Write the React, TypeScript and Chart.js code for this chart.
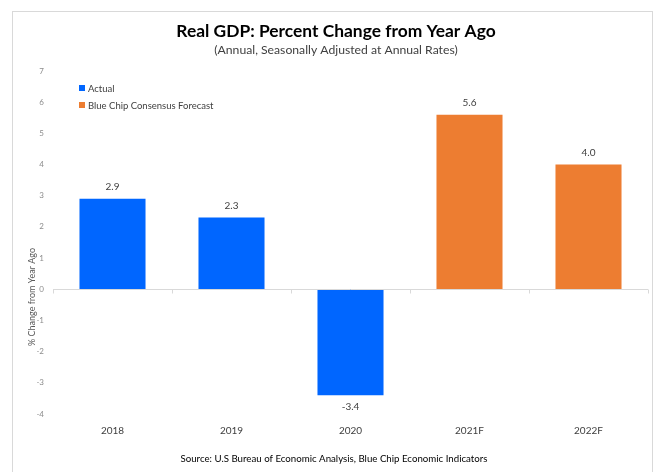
import React, { useEffect, useRef } from "react";
import { Chart, registerables } from "chart.js";

Chart.register(...registerables);

const categories = ["2018", "2019", "2020", "2021F", "2022F"];
const values = [2.9, 2.3, -3.4, 5.6, 4.0];
const seriesType = ["Actual", "Actual", "Actual", "Forecast", "Forecast"];
const legendLabels = ["Actual", "Blue Chip Consensus Forecast"];
const yTicks = { min: -4, max: 7, step: 1 };
const titleText = "Real GDP: Percent Change from Year Ago";
const subtitleText = "(Annual, Seasonally Adjusted at Annual Rates)";
const yTitleText = "% Change from Year Ago";
const sourceText = "Source: U.S Bureau of Economic Analysis, Blue Chip Economic Indicators";

const BLUE = "#0066FF";
const ORANGE = "#ED7D31";
const FONT = "Lato, 'Open Sans', sans-serif";

const decorPlugin = {
  id: "decor",
  beforeDraw(chart: any) {
    const ctx = chart.ctx;
    ctx.save();
    ctx.fillStyle = "#ffffff";
    ctx.fillRect(0, 0, chart.width, chart.height);
    ctx.strokeStyle = "#d9d9d9";
    ctx.lineWidth = 1;
    ctx.strokeRect(12.5, 11.5, 640, 520);
    ctx.restore();
  },
  afterDatasetsDraw(chart: any) {
    const ctx = chart.ctx;
    const y = chart.scales.y;
    const area = chart.chartArea;
    ctx.save();
    // zero line and ticks
    const y0 = Math.round(y.getPixelForValue(0)) + 0.5;
    ctx.strokeStyle = "#d9d9d9";
    ctx.lineWidth = 1;
    ctx.beginPath();
    ctx.moveTo(area.left, y0);
    ctx.lineTo(area.right, y0);
    const n = categories.length;
    for (let i = 0; i <= n; i++) {
      const px = Math.round(area.left + (i * (area.right - area.left)) / n) + 0.5;
      ctx.moveTo(px, y0);
      ctx.lineTo(px, y0 + 4);
    }
    ctx.stroke();

    // data labels
    ctx.fillStyle = "#404040";
    ctx.font = `10px ${FONT}`;
    ctx.textAlign = "center";
    ctx.textBaseline = "middle";
    const meta = chart.getDatasetMeta(0);
    meta.data.forEach((bar: any, i: number) => {
      const v = values[i];
      const ly = v >= 0 ? bar.y - 12 : bar.y + 11;
      ctx.fillText(v.toFixed(1), bar.x, ly);
    });

    // legend
    ctx.textAlign = "left";
    ctx.font = `9.5px ${FONT}`;
    const legendColors = [BLUE, ORANGE];
    legendLabels.forEach((lab, i) => {
      const ly = 88 + i * 17;
      ctx.fillStyle = legendColors[i];
      ctx.fillRect(79, ly - 3, 6, 6);
      ctx.fillStyle = "#404040";
      ctx.fillText(lab, 88, ly + 0.5);
    });

    // titles
    ctx.textAlign = "center";
    ctx.fillStyle = "#000000";
    ctx.font = `bold 17.4px ${FONT}`;
    ctx.fillText(titleText, 336, 31);
    ctx.fillStyle = "#404040";
    ctx.font = `12.2px ${FONT}`;
    ctx.fillText(subtitleText, 336, 50);

    // y title
    ctx.save();
    ctx.translate(32, 297);
    ctx.rotate(-Math.PI / 2);
    ctx.fillStyle = "#595959";
    ctx.font = `9px ${FONT}`;
    ctx.fillText(yTitleText, 0, 0);
    ctx.restore();

    // source
    ctx.fillStyle = "#000000";
    ctx.font = `9.7px ${FONT}`;
    ctx.fillText(sourceText, 334, 459);
    ctx.restore();
  },
};

export default function App() {
  const ref = useRef<HTMLCanvasElement | null>(null);
  useEffect(() => {
    document.body.style.margin = "0";
    const canvas = ref.current!;
    const chart = new Chart(canvas, {
      type: "bar",
      data: {
        labels: categories,
        datasets: [
          {
            label: "GDP",
            data: values,
            backgroundColor: seriesType.map((t) => (t === "Actual" ? BLUE : ORANGE)),
            borderWidth: 0,
            barPercentage: 0.555,
            categoryPercentage: 1,
          },
        ],
      },
      options: {
        animation: false,
        responsive: false,
        devicePixelRatio: 1,
        layout: { padding: { left: 0, right: 12, top: 71, bottom: 0 } },
        plugins: { legend: { display: false }, tooltip: { enabled: false }, title: { display: false } },
        scales: {
          x: {
            grid: { display: false, drawTicks: false },
            border: { display: false },
            ticks: { color: "#404040", font: { family: FONT, size: 10 }, padding: 11, maxRotation: 0 },
            afterFit: (s: any) => {
              s.height = 58;
            },
          },
          y: {
            min: yTicks.min,
            max: yTicks.max,
            grid: { display: false, drawTicks: false },
            border: { display: false },
            ticks: { stepSize: yTicks.step, color: "#8c8c8c", font: { family: FONT, size: 8 }, padding: 9 },
            afterFit: (s: any) => {
              s.width = 53;
            },
          },
        },
      },
      plugins: [decorPlugin],
    });
    return () => chart.destroy();
  }, []);
  return <canvas ref={ref} width={660} height={472} style={{ display: "block" }} />;
}
